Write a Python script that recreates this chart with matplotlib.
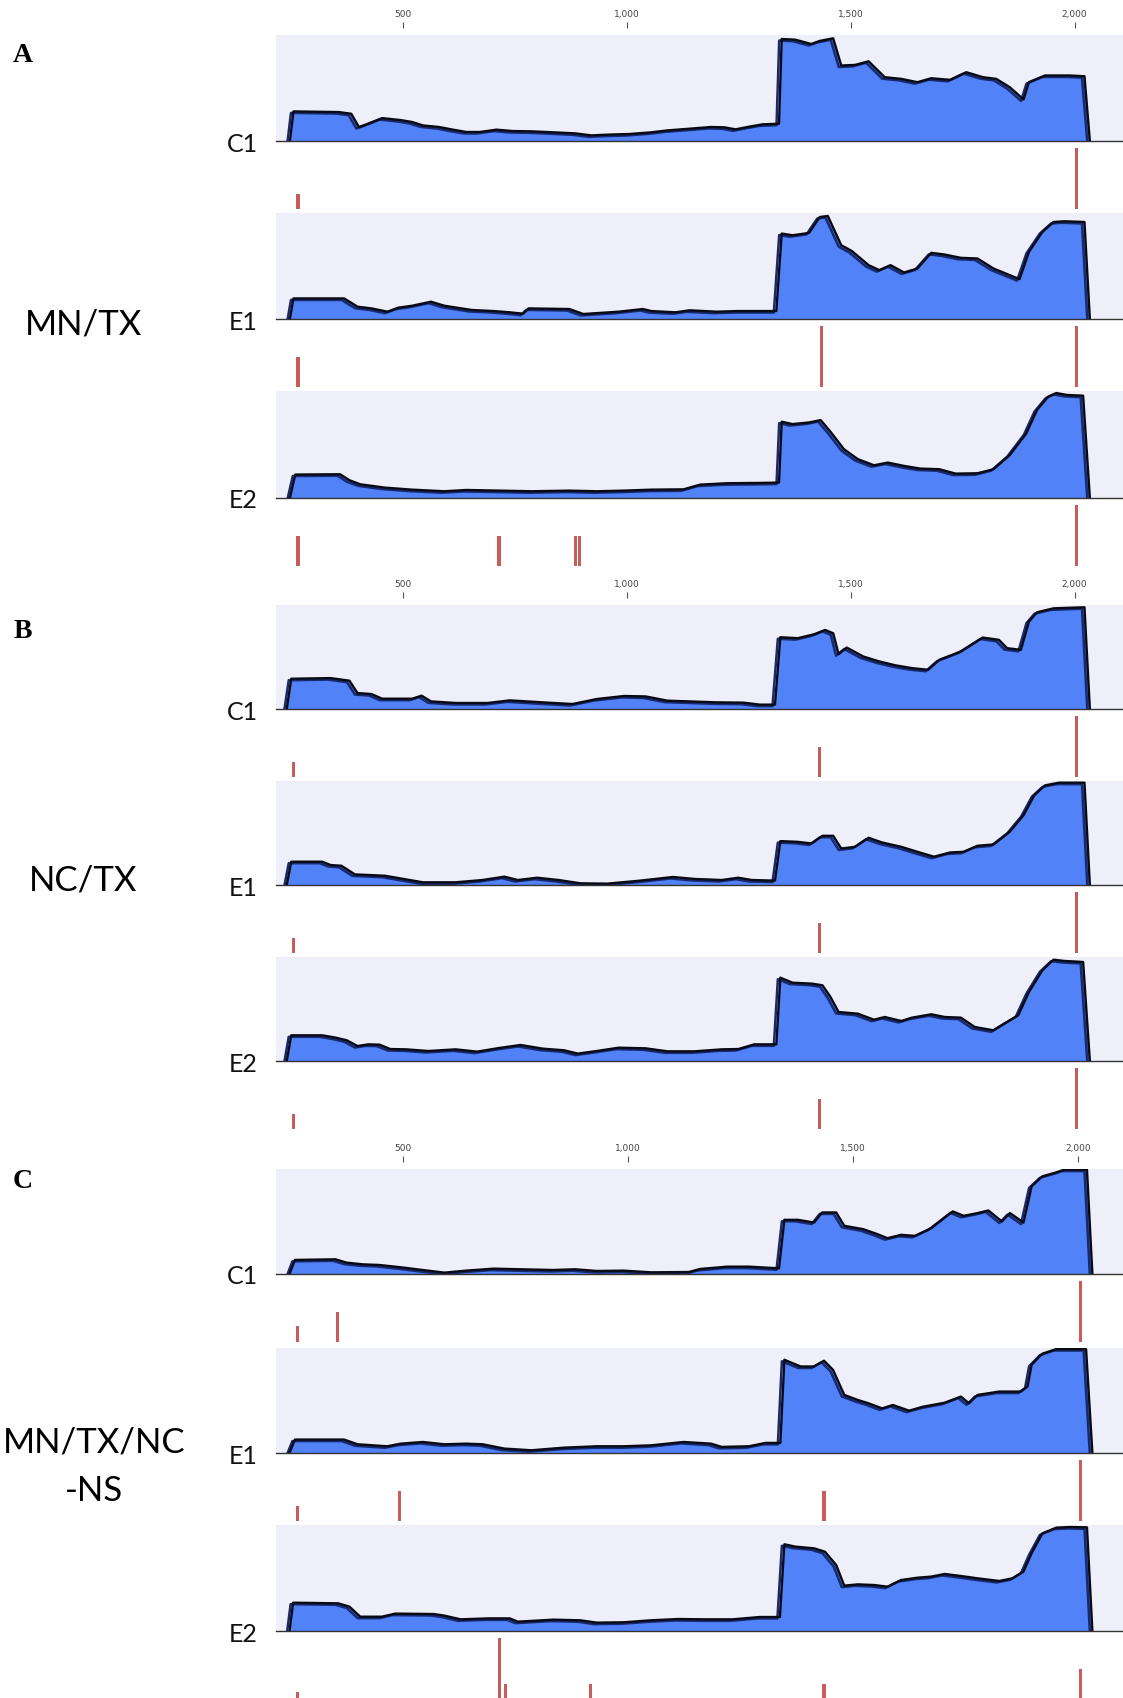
import numpy as np
import matplotlib
matplotlib.use('Agg')
import matplotlib.pyplot as plt
from matplotlib.transforms import offset_copy

# ---- data: coverage (relative depth, % of max) along the segment (bp) ----
a_c1_pos = [248, 256, 357, 385, 402, 417, 454, 496, 521, 545, 581, 612, 642, 672, 709, 745, 788, 836, 885, 921,
            957, 1006, 1055, 1091, 1140, 1188, 1218, 1243, 1273, 1303, 1340, 1346, 1376, 1412, 1431, 1461, 1479,
            1510, 1540, 1576, 1613, 1649, 1680, 1722, 1758, 1795, 1825, 1855, 1886, 1898, 1934, 1989, 2022, 2034]
a_c1_cov = [0, 27.9, 27.3, 25.7, 13.2, 15.4, 21.6, 19.7, 17.9, 14.7, 13.2, 10.7, 8.5, 8.5, 10.7, 9.4, 9.1, 8.2, 7.2, 5.3,
            6.0, 6.6, 8.2, 10.0, 11.6, 13.2, 12.9, 11.0, 13.5, 15.7, 16.3, 96.2, 95.6, 91.5, 94.4, 96.9, 71.2,
            71.8, 75.2, 60.2, 58.6, 55.5, 59.2, 57.7, 64.9, 60.2, 58.6, 50.8, 39.2, 55.5, 61.8, 61.8, 61.1, 0]

a_e1_pos = [248, 256, 369, 399, 430, 466, 490, 521, 563, 593, 654, 703, 739, 769, 781, 872, 903, 982, 1036, 1055,
            1109, 1140, 1200, 1249, 1334, 1346, 1370, 1407, 1431, 1449, 1479, 1503, 1540, 1564, 1589, 1619, 1649,
            1680, 1710, 1746, 1783, 1819, 1855, 1877, 1898, 1928, 1953, 1977, 2022, 2034]
a_e1_cov = [0, 19.4, 19.4, 11.6, 10.0, 6.9, 10.7, 12.5, 16.3, 12.5, 8.5, 7.5, 6.3, 5.0, 10.0, 9.4, 4.7, 6.9, 9.4, 7.5,
            6.3, 8.2, 6.9, 7.5, 7.5, 80.6, 79.0, 81.2, 96.2, 97.2, 69.6, 64.0, 50.8, 46.1, 50.8, 43.9, 47.6,
            62.4, 60.8, 57.7, 57.1, 47.6, 41.4, 37.6, 63.3, 82.1, 91.5, 92.2, 91.5, 0]

a_e2_pos = [248, 260, 360, 381, 405, 460, 521, 593, 642, 715, 788, 872, 933, 994, 1055, 1127, 1164, 1224, 1297, 1340,
            1346, 1370, 1407, 1433, 1455, 1485, 1516, 1552, 1583, 1619, 1655, 1698, 1734, 1783, 1819, 1855, 1892,
            1916, 1941, 1959, 1983, 2019, 2034]
a_e2_cov = [0, 21.9, 22.2, 16.6, 12.8, 9.7, 7.8, 6.3, 7.5, 6.9, 6.3, 6.9, 6.3, 6.9, 7.8, 8.1, 12.5, 13.8, 14.1, 14.4,
            71.3, 69.1, 70.6, 72.8, 61.9, 45.6, 36.3, 30.6, 33.1, 30.0, 27.5, 26.9, 22.8, 23.1, 26.9, 40.0, 60.3,
            82.2, 94.7, 98.1, 96.3, 95.6, 0]

b_c1_pos = [241, 251, 339, 381, 399, 430, 454, 521, 542, 563, 618, 690, 739, 812, 879, 933, 994, 1042, 1091, 1140,
            1200, 1261, 1297, 1331, 1343, 1382, 1419, 1443, 1461, 1473, 1491, 1528, 1564, 1601, 1637, 1673, 1698,
            1746, 1795, 1831, 1849, 1880, 1898, 1916, 1953, 2022, 2034]
b_c1_cov = [0, 29.1, 29.7, 27.2, 15.3, 14.4, 9.9, 9.9, 12.8, 7.3, 5.8, 5.8, 8.3, 6.4, 4.8, 9.6, 12.5, 12.1, 8.0, 7.3,
            6.4, 6.1, 4.2, 4.2, 69.0, 68.1, 71.9, 76.0, 72.8, 52.7, 59.1, 50.5, 45.7, 41.9, 39.3, 37.7, 47.3,
            55.3, 68.7, 66.5, 58.5, 56.9, 84.0, 93.0, 96.8, 97.8, 0]

b_e1_pos = [241, 251, 320, 339, 363, 393, 460, 502, 545, 618, 678, 727, 757, 800, 848, 897, 957, 1030, 1103, 1152,
            1212, 1249, 1279, 1331, 1343, 1382, 1413, 1437, 1461, 1479, 1510, 1540, 1570, 1613, 1649, 1686, 1722,
            1752, 1783, 1819, 1855, 1886, 1910, 1934, 1965, 2022, 2034]
b_e1_cov = [0, 22.4, 22.4, 19.2, 18.5, 10.2, 8.9, 5.8, 2.6, 2.6, 4.8, 8.0, 4.8, 7.0, 4.8, 1.6, 1.3, 4.2, 7.7, 5.8,
            4.8, 7.0, 4.8, 4.2, 42.2, 41.5, 39.9, 47.3, 47.3, 35.1, 36.7, 45.4, 40.9, 36.7, 31.9, 27.2, 31.3,
            31.9, 37.7, 39.0, 51.1, 67.1, 86.3, 95.8, 98.4, 98.4, 0]

b_e2_pos = [241, 251, 320, 351, 375, 399, 423, 448, 472, 508, 557, 618, 666, 715, 763, 812, 860, 891, 933, 982,
            1042, 1091, 1152, 1212, 1249, 1285, 1334, 1343, 1370, 1413, 1437, 1455, 1473, 1516, 1552, 1576, 1613,
            1637, 1680, 1710, 1746, 1777, 1819, 1843, 1874, 1898, 1928, 1953, 1977, 2019, 2034]
b_e2_cov = [0, 24.7, 24.7, 22.4, 19.9, 14.4, 16.0, 15.7, 11.5, 11.2, 9.6, 11.2, 9.0, 12.5, 15.4, 11.9, 10.3, 7.1, 9.6, 12.8,
            12.2, 9.3, 9.3, 11.2, 11.5, 16.0, 16.0, 80.1, 75.3, 74.4, 72.8, 61.5, 47.1, 45.5, 39.7, 42.3, 38.5,
            41.7, 44.9, 42.3, 41.7, 32.7, 29.5, 35.9, 43.9, 66.3, 87.2, 97.4, 96.2, 95.2, 0]

c_c1_pos = [249, 261, 351, 376, 412, 448, 496, 545, 593, 641, 702, 762, 835, 883, 931, 991, 1052, 1136, 1161, 1221,
            1269, 1336, 1348, 1378, 1414, 1432, 1463, 1481, 1523, 1553, 1577, 1607, 1638, 1674, 1722, 1746, 1777,
            1801, 1831, 1849, 1879, 1897, 1921, 1952, 1970, 2020, 2032]
c_c1_cov = [0, 13.4, 14.0, 10.8, 9.2, 8.6, 6.4, 3.8, 1.3, 3.2, 5.1, 4.5, 3.8, 4.5, 2.9, 3.2, 1.6, 1.9, 4.8, 7.0,
            7.0, 5.4, 51.6, 51.6, 49.0, 58.6, 58.6, 45.9, 42.7, 38.2, 34.1, 37.3, 36.3, 43.6, 59.6, 55.4, 58.0,
            60.5, 50.0, 58.0, 49.0, 83.4, 93.0, 96.8, 99.4, 99.4, 0]

c_e1_pos = [249, 261, 370, 400, 466, 496, 545, 593, 641, 678, 726, 786, 859, 931, 991, 1052, 1124, 1185, 1209, 1269,
            1306, 1339, 1348, 1384, 1414, 1436, 1456, 1481, 1511, 1535, 1565, 1589, 1625, 1656, 1704, 1740, 1758,
            1777, 1825, 1873, 1888, 1897, 1921, 1952, 2018, 2032]
c_e1_cov = [0, 12.8, 12.8, 8.3, 6.4, 8.9, 10.5, 8.3, 8.9, 8.3, 4.2, 2.6, 5.1, 6.4, 6.4, 7.3, 10.5, 8.9, 5.8, 6.4,
            9.6, 9.6, 88.8, 82.4, 82.4, 87.9, 79.2, 55.3, 50.5, 47.3, 42.5, 45.7, 40.3, 44.1, 47.9, 53.7, 47.3,
            55.3, 58.5, 58.5, 63.3, 84.0, 94.6, 99.0, 99.0, 0]

c_e2_pos = [249, 257, 357, 382, 406, 454, 484, 569, 593, 629, 690, 738, 756, 835, 895, 931, 991, 1052, 1112, 1173,
            1233, 1293, 1338, 1348, 1372, 1414, 1438, 1463, 1481, 1511, 1547, 1577, 1607, 1644, 1674, 1704, 1740,
            1777, 1825, 1855, 1879, 1897, 1921, 1952, 1982, 2020, 2032]
c_e2_cov = [0, 26.7, 26.1, 23.0, 13.5, 13.5, 16.4, 16.0, 14.5, 11.0, 11.9, 11.9, 8.8, 10.7, 10.1, 7.9, 8.2, 10.1, 11.3, 11.0,
            11.0, 13.2, 13.2, 81.8, 79.6, 78.0, 74.8, 62.3, 42.8, 44.0, 43.4, 41.8, 48.1, 50.3, 51.3, 53.8, 51.9,
            49.7, 47.2, 49.7, 56.0, 73.3, 92.1, 97.5, 98.1, 97.8, 0]

# ---- variant sites (bp) and relative bar heights ----
a_c1_var = [266, 2005]
a_c1_frq = [0.24, 1.0]
a_e1_var = [266, 1434, 2005]
a_e1_frq = [0.49, 1.0, 1.0]
a_e2_var = [266, 715, 885, 894, 2005]
a_e2_frq = [0.49, 0.49, 0.49, 0.49, 1.0]
b_c1_var = [257, 1431, 2005]
b_c1_frq = [0.25, 0.49, 1.0]
b_e1_var = [257, 1431, 2005]
b_e1_frq = [0.24, 0.49, 1.0]
b_e2_var = [257, 1431, 2005]
b_e2_frq = [0.25, 0.5, 1.0]
c_c1_var = [267, 355, 2006]
c_c1_frq = [0.26, 0.5, 1.0]
c_e1_var = [267, 494, 1436, 2006]
c_e1_frq = [0.24, 0.5, 0.5, 1.0]
c_e2_var = [267, 716, 728, 917, 1436, 2006]
c_e2_frq = [0.11, 1.0, 0.24, 0.24, 0.24, 0.5]

track_names = ['C1', 'E1', 'E2']
tick_vals = [500, 1000, 1500, 2000]
tick_labels = ['500', '1,000', '1,500', '2,000']
panel_letters = ['A', 'B', 'C']

panels = [
    dict(xlim=(217, 2108), tracks=[(a_c1_pos, a_c1_cov, a_c1_var, a_c1_frq),
                                   (a_e1_pos, a_e1_cov, a_e1_var, a_e1_frq),
                                   (a_e2_pos, a_e2_cov, a_e2_var, a_e2_frq)]),
    dict(xlim=(217, 2108), tracks=[(b_c1_pos, b_c1_cov, b_c1_var, b_c1_frq),
                                   (b_e1_pos, b_e1_cov, b_e1_var, b_e1_frq),
                                   (b_e2_pos, b_e2_cov, b_e2_var, b_e2_frq)]),
    dict(xlim=(219, 2100), tracks=[(c_c1_pos, c_c1_cov, c_c1_var, c_c1_frq),
                                   (c_e1_pos, c_e1_cov, c_e1_var, c_e1_frq),
                                   (c_e2_pos, c_e2_cov, c_e2_var, c_e2_frq)]),
]

# layout in pixels (top, baseline) of each coverage strip
W, H = 1123, 1698
LEFT, RIGHT = 276, 1123
strip_px = [
    [(35, 141), (213, 319), (391, 498)],
    [(605, 709), (781, 885), (957, 1061)],
    [(1169, 1274), (1348, 1453), (1525, 1631)],
]
letter_y = [56, 631, 1181]

fill_col = '#5182f7'
bg_col = '#efeff9'
bar_col = '#c95b5b'

fig = plt.figure(figsize=(W / 100, H / 100), dpi=100)


def px_axes(top, bottom):
    return fig.add_axes([LEFT / W, 1 - bottom / H, (RIGHT - LEFT) / W, (bottom - top) / H])


def clean(ax):
    for s in ['top', 'left', 'right', 'bottom']:
        ax.spines[s].set_visible(False)
    ax.set_xticks([])
    ax.set_yticks([])


for p, panel in enumerate(panels):
    xlim = panel['xlim']
    for t, (pos, cov, var, frq) in enumerate(panel['tracks']):
        top, base = strip_px[p][t]
        ax = px_axes(top, base)
        ax.set_facecolor(bg_col)
        ax.fill_between(pos, cov, 0, color=fill_col, lw=0)
        shadow = offset_copy(ax.transData, fig=fig, x=-2.5, y=-1.5, units='dots')
        ax.plot(pos, cov, color='#17296f', lw=1.8, transform=shadow, solid_joinstyle='round')
        ax.plot(pos, cov, color='#0a0a14', lw=1.7, solid_joinstyle='round')
        ax.set_xlim(xlim)
        ax.set_ylim(0, 100)
        clean(ax)
        ax.spines['bottom'].set_visible(True)
        ax.spines['bottom'].set_color('#333333')
        ax.spines['bottom'].set_linewidth(1.0)

        vax = px_axes(base + 1, base + 72)
        vax.patch.set_visible(False)
        vax.bar(var, frq, width=7, color=bar_col, lw=0)
        vax.set_xlim(xlim)
        vax.set_ylim(-0.065, 1.1)
        clean(vax)

        fig.text(258 / W, 1 - (base + 3) / H, track_names[t], ha='right', va='center',
                 fontsize=18, family='Lato', color='#111111')

        if t == 0:
            # position ruler above the first strip
            rax = fig.add_axes([LEFT / W, 1 - (top - 7) / H, (RIGHT - LEFT) / W, 0.0001])
            rax.set_xlim(xlim)
            for s in ['top', 'left', 'right', 'bottom']:
                rax.spines[s].set_visible(False)
            rax.patch.set_alpha(0)
            rax.set_yticks([])
            rax.xaxis.tick_top()
            rax.set_xticks(tick_vals)
            rax.set_xticklabels(tick_labels)
            rax.tick_params(axis='x', length=4.5, width=0.8, color='#555555', pad=1.5,
                            labelsize=6.5, labelcolor='#444444')

    fig.text(23 / W, 1 - letter_y[p] / H, panel_letters[p], ha='center', va='center',
             fontsize=20, weight='bold', family='Liberation Serif')

fig.text(83 / W, 1 - 325 / H, 'MN/TX', ha='center', va='center', fontsize=25, family='Lato')
fig.text(83 / W, 1 - 880 / H, 'NC/TX', ha='center', va='center', fontsize=25, family='Lato')
fig.text(94 / W, 1 - 1442 / H, 'MN/TX/NC', ha='center', va='center', fontsize=25, family='Lato')
fig.text(94 / W, 1 - 1491 / H, '-NS', ha='center', va='center', fontsize=25, family='Lato')

fig.savefig('out.png', dpi=100)
